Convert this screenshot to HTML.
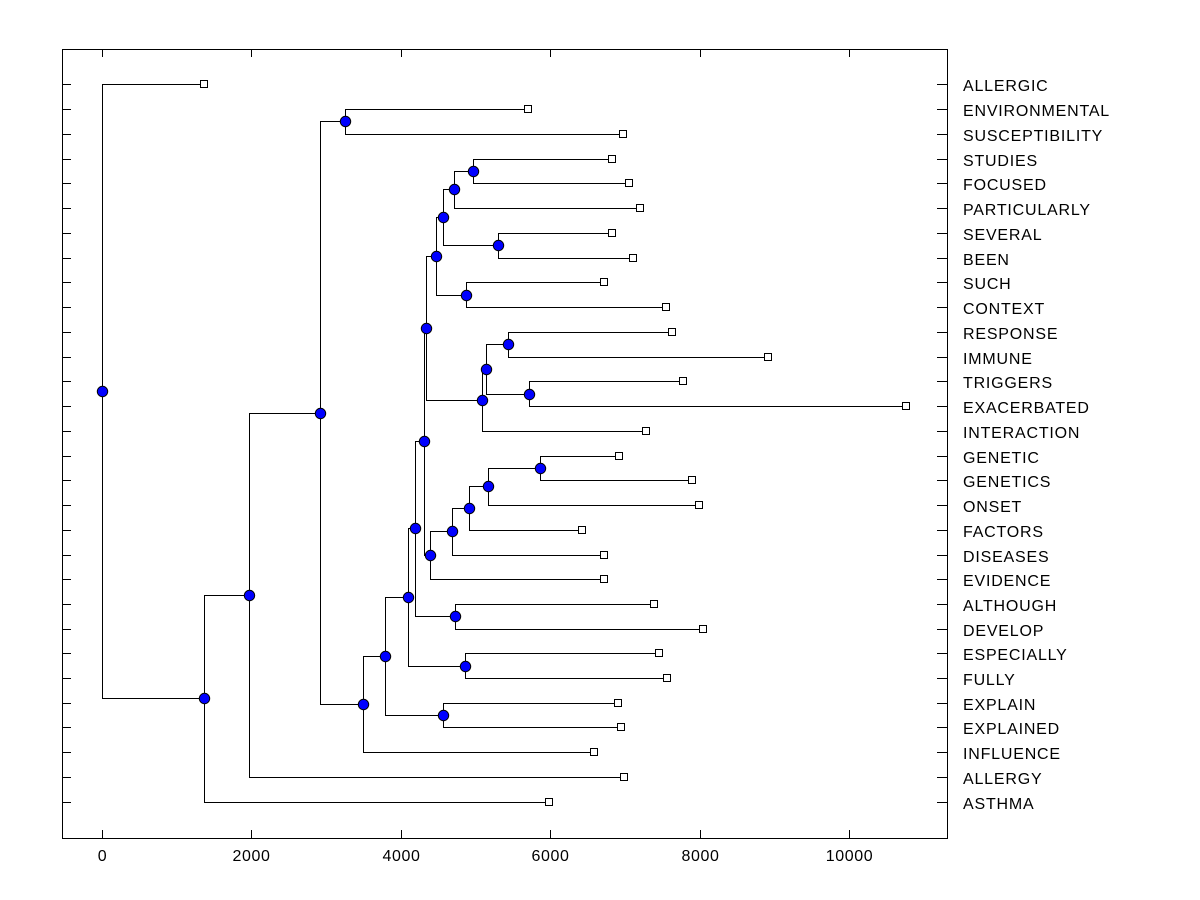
<!DOCTYPE html>
<html>
<head>
<meta charset="utf-8">
<style>
html,body{margin:0;padding:0;background:#fff;}
svg{display:block;}
text{font-family:"Liberation Sans",Arial,sans-serif;font-size:16px;fill:#000;}
</style>
</head>
<body>
<svg width="1200" height="900" viewBox="0 0 1200 900" xmlns="http://www.w3.org/2000/svg">
<rect x="0" y="0" width="1200" height="900" fill="#fff"/>
<!-- axis box -->
<rect x="62.5" y="49.5" width="885" height="789" fill="none" stroke="#000" stroke-width="1" shape-rendering="crispEdges"/>
<g stroke="#000" stroke-width="1" fill="none" shape-rendering="crispEdges">
<!-- x ticks top & bottom -->
<path d="M102.5 49V57 M251.5 49V57 M401.5 49V57 M550.5 49V57 M700.5 49V57 M849.5 49V57"/>
<path d="M102.5 830V838 M251.5 830V838 M401.5 830V838 M550.5 830V838 M700.5 830V838 M849.5 830V838"/>
<!-- y ticks left -->
<path d="M62 84.5H71 M62 109.5H71 M62 134.5H71 M62 159.5H71 M62 183.5H71 M62 208.5H71 M62 233.5H71 M62 258.5H71 M62 282.5H71 M62 307.5H71 M62 332.5H71 M62 357.5H71 M62 381.5H71 M62 406.5H71 M62 431.5H71 M62 456.5H71 M62 480.5H71 M62 505.5H71 M62 530.5H71 M62 555.5H71 M62 579.5H71 M62 604.5H71 M62 629.5H71 M62 653.5H71 M62 678.5H71 M62 703.5H71 M62 727.5H71 M62 752.5H71 M62 777.5H71 M62 802.5H71"/>
<!-- y ticks right -->
<path d="M937 84.5H947 M937 109.5H947 M937 134.5H947 M937 159.5H947 M937 183.5H947 M937 208.5H947 M937 233.5H947 M937 258.5H947 M937 282.5H947 M937 307.5H947 M937 332.5H947 M937 357.5H947 M937 381.5H947 M937 406.5H947 M937 431.5H947 M937 456.5H947 M937 480.5H947 M937 505.5H947 M937 530.5H947 M937 555.5H947 M937 579.5H947 M937 604.5H947 M937 629.5H947 M937 653.5H947 M937 678.5H947 M937 703.5H947 M937 727.5H947 M937 752.5H947 M937 777.5H947 M937 802.5H947"/>
<!-- dendrogram links -->
<path d="M204 84.5 H102.5 V698.5 H204.5"/>
<path d="M249.5 595.5 H204.5 V802.5 H549"/>
<path d="M320.5 413.5 H249.5 V777.5 H624"/>
<path d="M345.5 121.5 H320.5 V704.5 H363.5"/>
<path d="M528 109.5 H345.5 V134.5 H623"/>
<path d="M385.5 656.5 H363.5 V752.5 H594"/>
<path d="M408.5 597.5 H385.5 V715.5 H443.5"/>
<path d="M618 703.5 H443.5 V727.5 H621"/>
<path d="M415.5 528.5 H408.5 V666.5 H465.5"/>
<path d="M659 653.5 H465.5 V678.5 H667"/>
<path d="M424.5 441.5 H415.5 V616.5 H455.5"/>
<path d="M654 604.5 H455.5 V629.5 H703"/>
<path d="M426.5 328.5 H424.5 V555.5 H430.5"/>
<path d="M452.5 531.5 H430.5 V579.5 H604"/>
<path d="M469.5 508.5 H452.5 V555.5 H604"/>
<path d="M488.5 486.5 H469.5 V530.5 H582"/>
<path d="M540.5 468.5 H488.5 V505.5 H699"/>
<path d="M619 456.5 H540.5 V480.5 H692"/>
<path d="M436.5 256.5 H426.5 V400.5 H482.5"/>
<path d="M486.5 369.5 H482.5 V431.5 H646"/>
<path d="M508.5 344.5 H486.5 V394.5 H529.5"/>
<path d="M672 332.5 H508.5 V357.5 H768"/>
<path d="M683 381.5 H529.5 V406.5 H906"/>
<path d="M443.5 217.5 H436.5 V295.5 H466.5"/>
<path d="M604 282.5 H466.5 V307.5 H666"/>
<path d="M454.5 189.5 H443.5 V245.5 H498.5"/>
<path d="M612 233.5 H498.5 V258.5 H633"/>
<path d="M473.5 171.5 H454.5 V208.5 H640"/>
<path d="M612 159.5 H473.5 V183.5 H629"/>
</g>
<!-- leaf squares -->
<g fill="#fff" stroke="#000" stroke-width="1" shape-rendering="crispEdges">
<rect x="200.5" y="80.5" width="7" height="7"/>
<rect x="524.5" y="105.5" width="7" height="7"/>
<rect x="619.5" y="130.5" width="7" height="7"/>
<rect x="608.5" y="155.5" width="7" height="7"/>
<rect x="625.5" y="179.5" width="7" height="7"/>
<rect x="636.5" y="204.5" width="7" height="7"/>
<rect x="608.5" y="229.5" width="7" height="7"/>
<rect x="629.5" y="254.5" width="7" height="7"/>
<rect x="600.5" y="278.5" width="7" height="7"/>
<rect x="662.5" y="303.5" width="7" height="7"/>
<rect x="668.5" y="328.5" width="7" height="7"/>
<rect x="764.5" y="353.5" width="7" height="7"/>
<rect x="679.5" y="377.5" width="7" height="7"/>
<rect x="902.5" y="402.5" width="7" height="7"/>
<rect x="642.5" y="427.5" width="7" height="7"/>
<rect x="615.5" y="452.5" width="7" height="7"/>
<rect x="688.5" y="476.5" width="7" height="7"/>
<rect x="695.5" y="501.5" width="7" height="7"/>
<rect x="578.5" y="526.5" width="7" height="7"/>
<rect x="600.5" y="551.5" width="7" height="7"/>
<rect x="600.5" y="575.5" width="7" height="7"/>
<rect x="650.5" y="600.5" width="7" height="7"/>
<rect x="699.5" y="625.5" width="7" height="7"/>
<rect x="655.5" y="649.5" width="7" height="7"/>
<rect x="663.5" y="674.5" width="7" height="7"/>
<rect x="614.5" y="699.5" width="7" height="7"/>
<rect x="617.5" y="723.5" width="7" height="7"/>
<rect x="590.5" y="748.5" width="7" height="7"/>
<rect x="620.5" y="773.5" width="7" height="7"/>
<rect x="545.5" y="798.5" width="7" height="7"/>
</g>
<!-- node circles -->
<g fill="#0000ff" stroke="#000" stroke-width="1">
<circle cx="102.5" cy="391.5" r="5.2"/>
<circle cx="204.5" cy="698.5" r="5.2"/>
<circle cx="249.5" cy="595.5" r="5.2"/>
<circle cx="320.5" cy="413.5" r="5.2"/>
<circle cx="345.5" cy="121.5" r="5.2"/>
<circle cx="363.5" cy="704.5" r="5.2"/>
<circle cx="385.5" cy="656.5" r="5.2"/>
<circle cx="408.5" cy="597.5" r="5.2"/>
<circle cx="443.5" cy="715.5" r="5.2"/>
<circle cx="415.5" cy="528.5" r="5.2"/>
<circle cx="465.5" cy="666.5" r="5.2"/>
<circle cx="424.5" cy="441.5" r="5.2"/>
<circle cx="455.5" cy="616.5" r="5.2"/>
<circle cx="426.5" cy="328.5" r="5.2"/>
<circle cx="430.5" cy="555.5" r="5.2"/>
<circle cx="452.5" cy="531.5" r="5.2"/>
<circle cx="469.5" cy="508.5" r="5.2"/>
<circle cx="488.5" cy="486.5" r="5.2"/>
<circle cx="540.5" cy="468.5" r="5.2"/>
<circle cx="436.5" cy="256.5" r="5.2"/>
<circle cx="482.5" cy="400.5" r="5.2"/>
<circle cx="486.5" cy="369.5" r="5.2"/>
<circle cx="508.5" cy="344.5" r="5.2"/>
<circle cx="529.5" cy="394.5" r="5.2"/>
<circle cx="443.5" cy="217.5" r="5.2"/>
<circle cx="466.5" cy="295.5" r="5.2"/>
<circle cx="454.5" cy="189.5" r="5.2"/>
<circle cx="498.5" cy="245.5" r="5.2"/>
<circle cx="473.5" cy="171.5" r="5.2"/>
</g>
<!-- x tick labels -->
<g text-anchor="middle" style="letter-spacing:0.6px">
<text x="102.5" y="861">0</text>
<text x="251.5" y="861">2000</text>
<text x="401.5" y="861">4000</text>
<text x="550.5" y="861">6000</text>
<text x="700.5" y="861">8000</text>
<text x="849.5" y="861">10000</text>
</g>
<!-- leaf labels -->
<g style="letter-spacing:0.8px">
<text x="963" y="91">ALLERGIC</text>
<text x="963" y="116">ENVIRONMENTAL</text>
<text x="963" y="141">SUSCEPTIBILITY</text>
<text x="963" y="166">STUDIES</text>
<text x="963" y="190">FOCUSED</text>
<text x="963" y="215">PARTICULARLY</text>
<text x="963" y="240">SEVERAL</text>
<text x="963" y="265">BEEN</text>
<text x="963" y="289">SUCH</text>
<text x="963" y="314">CONTEXT</text>
<text x="963" y="339">RESPONSE</text>
<text x="963" y="364">IMMUNE</text>
<text x="963" y="388">TRIGGERS</text>
<text x="963" y="413">EXACERBATED</text>
<text x="963" y="438">INTERACTION</text>
<text x="963" y="463">GENETIC</text>
<text x="963" y="487">GENETICS</text>
<text x="963" y="512">ONSET</text>
<text x="963" y="537">FACTORS</text>
<text x="963" y="562">DISEASES</text>
<text x="963" y="586">EVIDENCE</text>
<text x="963" y="611">ALTHOUGH</text>
<text x="963" y="636">DEVELOP</text>
<text x="963" y="660">ESPECIALLY</text>
<text x="963" y="685">FULLY</text>
<text x="963" y="710">EXPLAIN</text>
<text x="963" y="734">EXPLAINED</text>
<text x="963" y="759">INFLUENCE</text>
<text x="963" y="784">ALLERGY</text>
<text x="963" y="809">ASTHMA</text>
</g>
</svg>
</body>
</html>
